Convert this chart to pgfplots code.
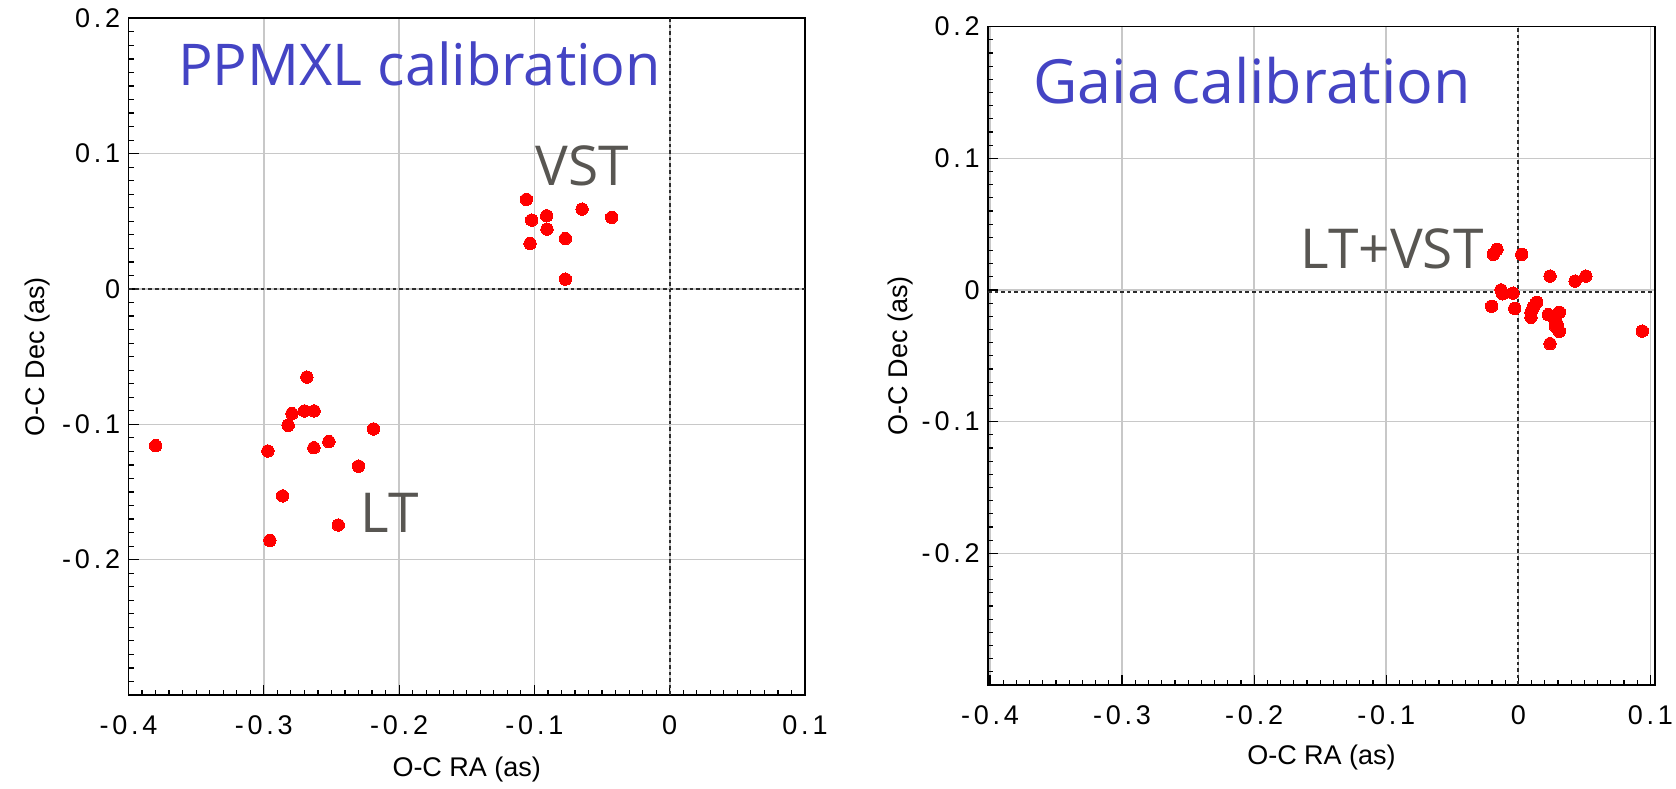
\documentclass[border=0pt]{standalone}
\usepackage{pgfplots}
\pgfplotsset{compat=1.18}
\usepackage{fontspec}
\setmainfont{Liberation Sans}
\newfontfamily\tickfont[LetterSpace=14]{Liberation Sans}
\newfontfamily\titlefont{Open Sans}
\definecolor{ttl}{RGB}{68,68,196}
\definecolor{lbl}{RGB}{88,86,82}
\definecolor{gridc}{RGB}{200,200,200}
\definecolor{zline}{RGB}{45,45,45}
\pgfplotsset{
 myaxis/.style={
  scale only axis, clip mode=individual,
  ymin=-0.3, ymax=0.2,
  xtick={-0.4,-0.3,-0.2,-0.1,0,0.1},
  xticklabels={-0.4,-0.3,-0.2,-0.1,0,0.1},
  ytick={-0.2,-0.1,0,0.1,0.2},
  yticklabels={-0.2,-0.1,0,0.1,0.2},
  minor xtick={-0.4,-0.39,...,0.1},
  minor ytick={-0.3,-0.29,...,0.2},
  tick align=inside, major tick length=5pt, minor tick length=2.5pt,
  tick pos=left,
  grid=major, major grid style={gridc, line width=0.8pt},
  axis line style={line width=0.8pt},
  tick style={black, line width=0.6pt},
  every tick label/.append style={font=\tickfont\fontsize{13.5}{15}\selectfont},
  xticklabel style={anchor=base, yshift=-19.5pt},
  yticklabel style={anchor=east, inner sep=0pt, xshift=-4pt},
 },
 pts/.style={only marks, mark=*, mark size=3.1pt, mark options={fill=red, draw=red, line width=0pt}},
 zl/.style={zline, line width=1.15pt, dash pattern=on 1.8pt off 1.5pt},
}
\tikzset{
 ttlnode/.style={anchor=base west, inner sep=0pt, text=ttl, font=\titlefont\fontsize{28.8}{30}\selectfont},
 lblnode/.style={anchor=base west, inner sep=0pt, text=lbl, font=\titlefont\fontsize{27.5}{28}\selectfont},
 axlbl/.style={anchor=base, font=\fontsize{13.5}{15}\selectfont},
}
\begin{document}
\begin{tikzpicture}
\useasboundingbox (0,0) rectangle (838pt,394pt);
\begin{axis}[myaxis, at={(64.25pt,46.5pt)}, anchor=south west,
  width=338.25pt, height=338.35pt, xmin=-0.4, xmax=0.1]
\addplot[zl] coordinates {(0,-0.3) (0,0.2)};
\addplot[zl] coordinates {(-0.4,0) (0.1,0)};
\addplot[pts] coordinates {
(-0.1059,0.0662) (-0.1020,0.0509) (-0.0909,0.0541) (-0.0907,0.0442)
(-0.1032,0.0336) (-0.0771,0.0373) (-0.0648,0.0590) (-0.0429,0.0529)
(-0.0771,0.0073)};
\addplot[pts] coordinates {
(-0.3799,-0.1158) (-0.2970,-0.1197) (-0.2820,-0.1007) (-0.2792,-0.0921)
(-0.2699,-0.0901) (-0.2628,-0.0901) (-0.2682,-0.0651) (-0.2630,-0.1173)
(-0.2519,-0.1128) (-0.2189,-0.1034) (-0.2300,-0.1309) (-0.2861,-0.1529)
(-0.2450,-0.1744) (-0.2955,-0.1858)};
\node[ttlnode] at (axis cs:-0.3635,0.1507) {PPMXL calibration};
\node[lblnode] at (axis cs:-0.0995,0.0761) {VST};
\node[lblnode] at (axis cs:-0.2285,-0.1797) {LT};
\node[axlbl] at (axis description cs:0.5,-0.1206) {O-C RA (as)};
\node[axlbl, rotate=90] at (axis description cs:-0.1242,0.5) {O-C Dec (as)};
\end{axis}
\begin{axis}[myaxis, at={(494pt,51.5pt)}, anchor=south west,
  width=333.5pt, height=329.15pt, xmin=-0.4015, xmax=0.1035]
\addplot[zl] coordinates {(0,-0.3) (0,0.2)};
\addplot[zl] coordinates {(-0.4015,-0.0015) (0.1035,-0.0015)};
\addplot[pts] coordinates {
(-0.0189,0.0271) (-0.0161,0.0309) (0.0026,0.0271) (0.0240,0.0106)
(0.0430,0.0068) (0.0511,0.0106) (-0.0131,0.0001) (-0.0118,-0.0029)
(-0.0040,-0.0024) (-0.0202,-0.0123) (-0.0027,-0.0139) (0.0139,-0.0093)
(0.0114,-0.0131) (0.0096,-0.0169) (0.0096,-0.0207) (0.0227,-0.0187)
(0.0311,-0.0169) (0.0273,-0.0220) (0.0293,-0.0258) (0.0311,-0.0314)
(0.0240,-0.0408) (0.0939,-0.0312) (0.0283,-0.0280)};
\node[ttlnode, font=\titlefont\fontsize{30.5}{32}\selectfont] at (axis cs:-0.3675,0.1418) {Gaia\,calibration};
\node[lblnode] at (axis cs:-0.1650,0.0165) {LT+VST};
\node[axlbl] at (axis description cs:0.5,-0.1215) {O-C RA (as)};
\node[axlbl, rotate=90] at (axis description cs:-0.12,0.5) {O-C Dec (as)};
\end{axis}
\end{tikzpicture}
\end{document}
